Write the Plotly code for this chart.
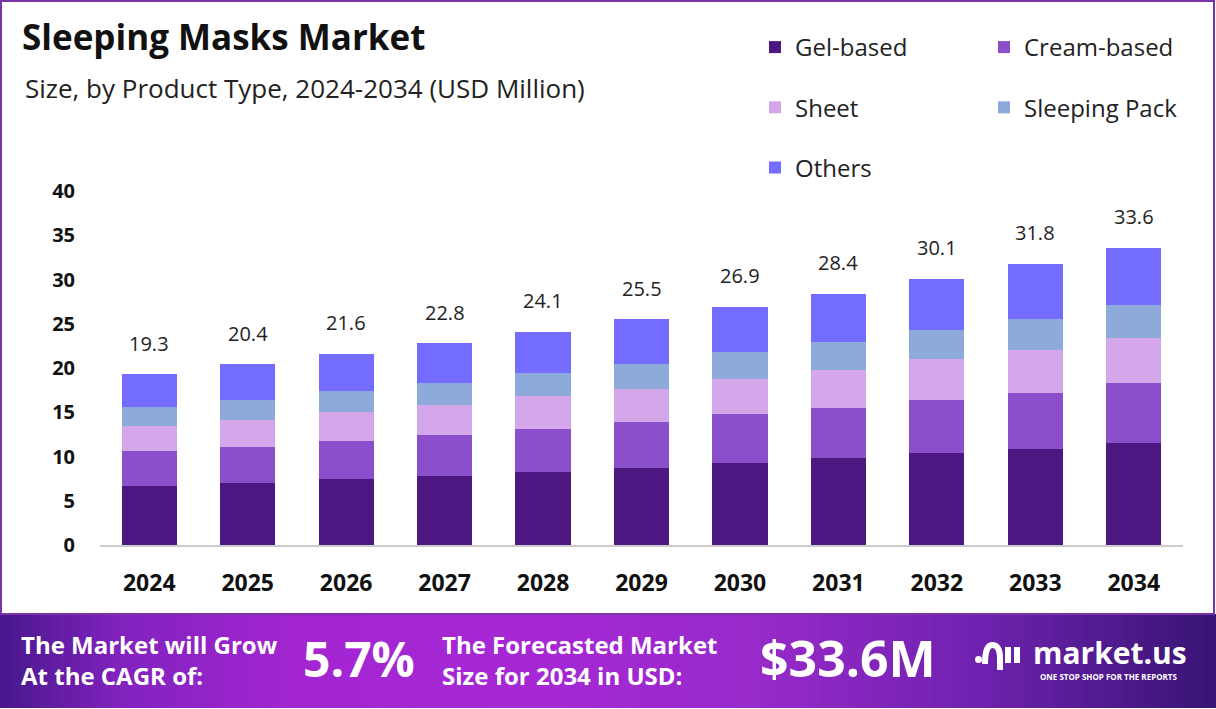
import plotly.graph_objects as go

# ---------------- data ----------------
years = ["2024", "2025", "2026", "2027", "2028", "2029", "2030", "2031", "2032", "2033", "2034"]
gel_based = [6.7, 7.0, 7.5, 7.8, 8.2, 8.7, 9.3, 9.8, 10.4, 10.9, 11.5]
cream_based = [3.9, 4.1, 4.3, 4.6, 4.9, 5.2, 5.5, 5.7, 6.0, 6.3, 6.8]
sheet = [2.8, 3.0, 3.2, 3.4, 3.7, 3.7, 4.0, 4.3, 4.6, 4.8, 5.1]
sleeping_pack = [2.2, 2.3, 2.4, 2.5, 2.6, 2.9, 3.0, 3.1, 3.3, 3.5, 3.7]
others = [3.7, 4.0, 4.2, 4.5, 4.7, 5.0, 5.1, 5.5, 5.8, 6.3, 6.5]
totals = [19.3, 20.4, 21.6, 22.8, 24.1, 25.5, 26.9, 28.4, 30.1, 31.8, 33.6]
y_ticks = [0, 5, 10, 15, 20, 25, 30, 35, 40]

series = [
    ("Gel-based", gel_based, "#4d1782", "legend"),
    ("Cream-based", cream_based, "#8b4fcc", "legend2"),
    ("Sheet", sheet, "#d4a7eb", "legend"),
    ("Sleeping Pack", sleeping_pack, "#8eaadb", "legend2"),
    ("Others", others, "#736cff", "legend"),
]

W, H = 1216, 709
L, R, T, B = 100, 33, 191, 164
PW, PH = W - L - R, H - T - B


def px(x):
    return (x - L) / PW


def py(y):
    return (H - B - y) / PH


FONT = "Open Sans"

fig = go.Figure()
for name, vals, col, leg in series:
    fig.add_trace(go.Bar(
        x=years, y=vals, name=name, marker=dict(color=col, line=dict(width=0)),
        legend=leg, legendgroup=name,
    ))

# totals above bars (category index positions)
for i, tot in enumerate(totals):
    fig.add_annotation(x=i, y=tot, xref="x", yref="y", text=f"{tot}", showarrow=False, yshift=31,
                       font=dict(family=FONT, size=20, color="#222222"))

shapes = []
# footer gradient band
stops = [(0.0, (72, 24, 140)), (0.1, (130, 34, 190)), (0.25, (164, 38, 210)), (0.45, (165, 40, 212)),
         (0.62, (152, 42, 202)), (0.8, (112, 34, 176)), (1.0, (56, 20, 116))]


def grad(t):
    for k in range(len(stops) - 1):
        t0, c0 = stops[k]
        t1, c1 = stops[k + 1]
        if t0 <= t <= t1:
            f = (t - t0) / (t1 - t0)
            c = [round(c0[j] + (c1[j] - c0[j]) * f) for j in range(3)]
            return "rgb(%d,%d,%d)" % tuple(c)
    return "rgb(56,20,116)"


N = 120
for k in range(N):
    x0 = W * k / N
    x1 = W * (k + 1) / N + 1
    shapes.append(dict(type="rect", xref="paper", yref="paper",
                       x0=px(x0), x1=px(x1), y0=py(708), y1=py(614),
                       fillcolor=grad((k + 0.5) / N), line=dict(width=0), layer="below"))

# outer border
shapes.append(dict(type="rect", xref="paper", yref="paper",
                   x0=px(1), x1=px(1214), y0=py(614), y1=py(1),
                   line=dict(color="#7b34a8", width=2), fillcolor="rgba(0,0,0,0)"))

# logo icon (approximation)
shapes.append(dict(type="circle", xref="paper", yref="paper",
                   x0=px(975), x1=px(982), y0=py(663), y1=py(656),
                   fillcolor="white", line=dict(width=0)))
arc = "M %f %f Q %f %f %f %f Q %f %f %f %f L %f %f" % (
    px(985), py(664), px(985), py(644), px(993), py(645),
    px(1000), py(646), px(1000), py(658), px(1000), py(670))
shapes.append(dict(type="path", xref="paper", yref="paper", path=arc,
                   line=dict(color="white", width=6)))
for bx in (1008, 1017):
    shapes.append(dict(type="line", xref="paper", yref="paper",
                       x0=px(bx), x1=px(bx), y0=py(647), y1=py(663),
                       line=dict(color="white", width=6)))

fig.update_layout(shapes=shapes)

# title & subtitle
fig.add_annotation(xref="paper", yref="paper", x=px(20), y=py(37), xanchor="left", yanchor="middle",
                   text="<b>Sleeping Masks Market</b>", showarrow=False,
                   font=dict(family=FONT, size=35, color="#111111"))
fig.add_annotation(xref="paper", yref="paper", x=px(23), y=py(88), xanchor="left", yanchor="middle",
                   text="Size, by Product Type, 2024-2034 (USD Million)", showarrow=False,
                   font=dict(family=FONT, size=26, color="#222222"))

# footer texts
fig.add_annotation(xref="paper", yref="paper", x=px(19), y=py(660), xanchor="left", yanchor="middle",
                   text="<b>The Market will Grow<br>At the CAGR of:</b>", showarrow=False, align="left",
                   font=dict(family=FONT, size=24, color="white"))
fig.add_annotation(xref="paper", yref="paper", x=px(301), y=py(658), xanchor="left", yanchor="middle",
                   text="<b>5.7%</b>", showarrow=False,
                   font=dict(family=FONT, size=48, color="white"))
fig.add_annotation(xref="paper", yref="paper", x=px(440), y=py(660), xanchor="left", yanchor="middle",
                   text="<b>The Forecasted Market<br>Size for 2034 in USD:</b>", showarrow=False, align="left",
                   font=dict(family=FONT, size=24, color="white"))
fig.add_annotation(xref="paper", yref="paper", x=px(758), y=py(658), xanchor="left", yanchor="middle",
                   text="<b>$33.6M</b>", showarrow=False,
                   font=dict(family=FONT, size=50, color="white"))
fig.add_annotation(xref="paper", yref="paper", x=px(1031), y=py(652), xanchor="left", yanchor="middle",
                   text="<b>market.us</b>", showarrow=False,
                   font=dict(family=FONT, size=30, color="white"))
fig.add_annotation(xref="paper", yref="paper", x=px(1038), y=py(676), xanchor="left", yanchor="middle",
                   text="<b>ONE STOP SHOP FOR THE REPORTS</b>", showarrow=False,
                   font=dict(family=FONT, size=8, color="white"))

fig.update_layout(
    width=W, height=H,
    margin=dict(l=L, r=R, t=T, b=B, pad=0),
    paper_bgcolor="white", plot_bgcolor="white",
    barmode="stack", bargap=0.44,
    font=dict(family=FONT, color="#111111"),
    showlegend=True,
    legend=dict(x=px(755), y=py(25), xanchor="left", yanchor="top", orientation="v",
                traceorder="grouped", tracegroupgap=26, bgcolor="rgba(0,0,0,0)",
                font=dict(family=FONT, size=24, color="#222222")),
    legend2=dict(x=px(984), y=py(25), xanchor="left", yanchor="top", orientation="v",
                 traceorder="grouped", tracegroupgap=26, bgcolor="rgba(0,0,0,0)",
                 font=dict(family=FONT, size=24, color="#222222")),
    xaxis=dict(type="category", range=[-0.5, len(years) - 0.5], showgrid=False, showline=True,
               linecolor="#cccccc", linewidth=1.5,
               ticks="", ticklabelstandoff=17,
               tickfont=dict(family=FONT, size=23, color="#111111", weight="bold")),
    yaxis=dict(range=[0, 40], tickvals=y_ticks, showgrid=False, showline=False, zeroline=False,
               ticks="", ticklabelstandoff=24,
               tickfont=dict(family=FONT, size=20, color="#111111", weight="bold")),
)

fig.write_html("out.html", post_script="document.body.style.margin='0';",
               config={"displayModeBar": False})
